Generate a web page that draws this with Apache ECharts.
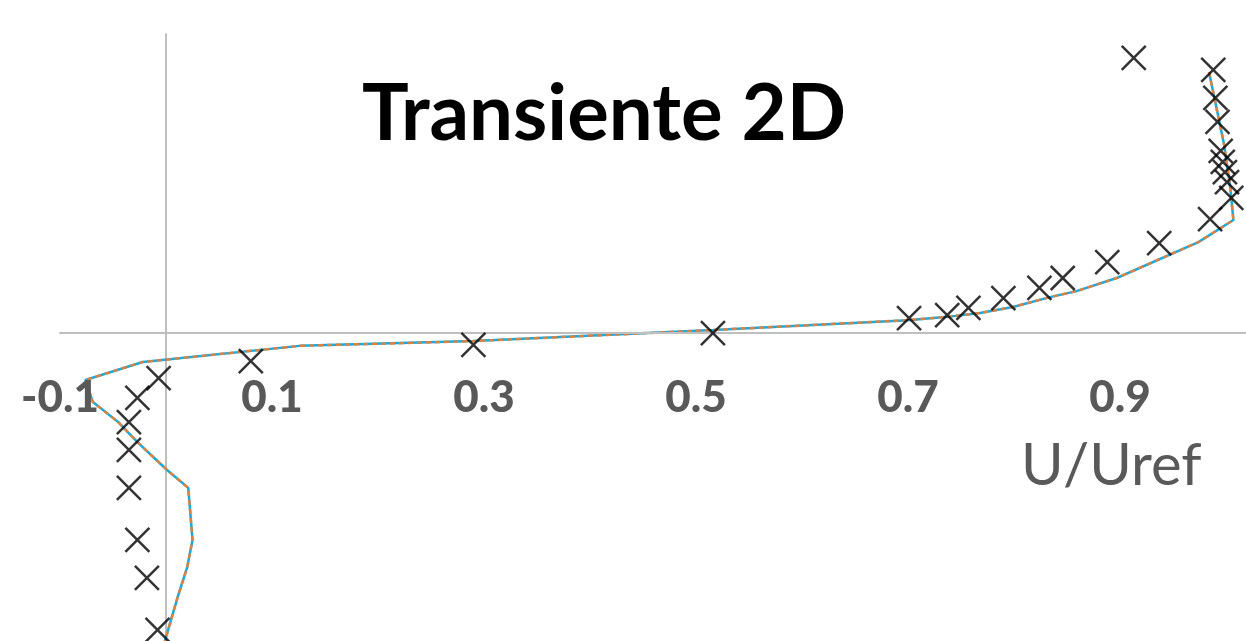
<!DOCTYPE html>
<html>
<head>
<meta charset="utf-8">
<title>Transiente 2D</title>
<script src="https://cdn.jsdelivr.net/npm/echarts@6/dist/echarts.min.js"></script>
<style>
  html, body { margin: 0; padding: 0; background: #ffffff; }
  #chart { width: 1246px; height: 641px; }
</style>
</head>
<body>
<div id="chart"></div>
<script>
// Velocity profile: measured points (crosses) and the simulated profile (lines)
const xTickLabels = [-0.1, 0.1, 0.3, 0.5, 0.7, 0.9];

// measured U/Uref and height
const measuredU = [0.913, 0.988, 0.990, 0.992, 0.995, 0.997, 0.999, 1.001, 1.005, 0.985,
  0.937, 0.888, 0.846, 0.824, 0.790, 0.757, 0.737, 0.701, 0.516, 0.290, 0.080,
  -0.007, -0.027, -0.035, -0.035, -0.035, -0.027, -0.018, -0.008];
const measuredY = [0.920, 0.880, 0.786, 0.706, 0.609, 0.572, 0.538, 0.505, 0.452, 0.381,
  0.301, 0.237, 0.184, 0.151, 0.117, 0.084, 0.060, 0.050, 0.000, -0.040, -0.094,
  -0.151, -0.217, -0.298, -0.391, -0.518, -0.692, -0.819, -0.993];

// simulated profile, U/Uref and height
const simU = [0.984, 0.998, 1.004, 1.007, 0.974, 0.897, 0.859, 0.834, 0.799, 0.768,
  0.737, 0.700, 0.516, 0.290, 0.126, -0.022, -0.076, -0.069, -0.045, -0.027,
  0.001, 0.021, 0.025, 0.020, 0.011, 0.002, -0.002];
const simY = [0.873, 0.635, 0.488, 0.378, 0.304, 0.184, 0.140, 0.120, 0.087, 0.067,
  0.054, 0.043, 0.010, -0.027, -0.043, -0.097, -0.157, -0.231, -0.298, -0.365,
  -0.458, -0.518, -0.692, -0.783, -0.883, -0.993, -1.043];

const Y_MIN = -1.03;
const Y_MAX = 1.0;

const pair = (xs, ys) => xs.map((x, i) => [x, ys[i]]);
const measured = pair(measuredU, measuredY);
const simulated = pair(simU, simY);

const chart = echarts.init(document.getElementById('chart'), null, { renderer: 'canvas' });

const crossPath = 'path://M0,0L10,10M10,0L0,10';

// the horizontal axis sits at height 0: shift it up from the grid bottom
const gridTop = 34;
const gridHeight = 641 - gridTop;
const zeroOffset = gridHeight * (0 - Y_MIN) / (Y_MAX - Y_MIN);

chart.setOption({
  animation: false,
  backgroundColor: '#ffffff',
  grid: { left: 60, right: 0, top: gridTop, bottom: 0, containLabel: false, outerBoundsMode: 'none' },
  xAxis: {
    type: 'value',
    min: -0.1,
    max: 1.0189,
    position: 'bottom',
    offset: -zeroOffset,
    z: 3,
    axisLine: { onZero: false, lineStyle: { color: '#bfbfbf', width: 2 } },
    axisTick: { show: false },
    splitLine: { show: false },
    axisLabel: {
      customValues: xTickLabels,
      margin: 43,
      color: '#595959',
      fontFamily: 'Lato',
      fontWeight: 900,
      fontSize: 44,
      formatter: v => String(Math.round(v * 10) / 10)
    }
  },
  yAxis: {
    type: 'value',
    min: Y_MIN,
    max: Y_MAX,
    axisLine: { onZero: true, lineStyle: { color: '#bfbfbf', width: 2 } },
    axisTick: { show: false },
    splitLine: { show: false },
    axisLabel: { show: false }
  },
  series: [
    {
      name: 'Simulación A',
      type: 'line',
      data: simulated,
      showSymbol: false,
      lineStyle: { color: '#00b0f0', width: 2.5 },
      z: 2
    },
    {
      name: 'Simulación B',
      type: 'line',
      data: simulated,
      showSymbol: false,
      lineStyle: { color: '#ed7d31', width: 2.5, type: [5, 4] },
      z: 2
    },
    {
      name: 'Experimental',
      type: 'scatter',
      data: measured,
      symbol: crossPath,
      symbolSize: 24,
      itemStyle: { color: 'rgba(0,0,0,0)', borderColor: '#000000', borderWidth: 2.5 },
      z: 4
    }
  ],
  graphic: [
    {
      type: 'text',
      left: 362,
      top: 76,
      style: {
        text: 'Transiente 2D',
        fontFamily: 'Lato',
        fontWeight: 'bold',
        fontSize: 78,
        fill: '#000000'
      }
    },
    {
      type: 'text',
      left: 1021,
      top: 437,
      style: {
        text: 'U/Uref',
        fontFamily: 'Lato',
        fontSize: 58,
        fill: '#595959'
      }
    }
  ]
});
</script>
</body>
</html>
